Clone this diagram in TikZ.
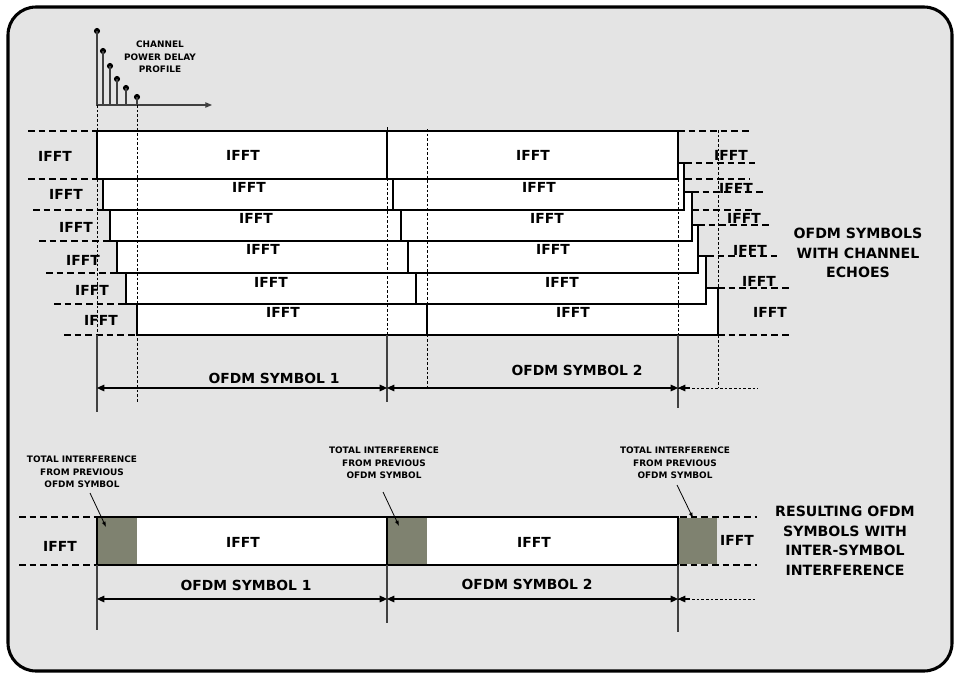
\documentclass[tikz,border=0pt]{standalone}
\usepackage{fontspec}
\setmainfont{DejaVu Sans}
\usepackage{tikz}
\usetikzlibrary{arrows.meta}
\definecolor{panelgray}{RGB}{228,228,228}
\definecolor{isigray}{RGB}{127,130,112}
\tikzstyle{symbox}=[draw=black, fill=white, line width=1.4pt]
\tikzstyle{isibox}=[fill=isigray]
\tikzstyle{rowdash}=[dash pattern=on 5pt off 3pt, line width=1.3pt]
\tikzstyle{tap}=[dash pattern=on 2pt off 1.5pt, line width=0.7pt]
\tikzstyle{ext}=[draw=black!75, line width=0.8pt]
\tikzstyle{dimline}=[{Triangle[length=5.5pt,width=5pt]}-{Triangle[length=5.5pt,width=5pt]}, line width=0.8pt]
\tikzstyle{ptr}=[-{Latex[length=4pt,width=3pt]}, line width=0.6pt]
\tikzstyle{lbl}=[font=\fontsize{10.4}{12}\selectfont\bfseries, inner sep=0pt]
\tikzstyle{note}=[font=\fontsize{6.7}{9.4}\selectfont\bfseries, align=center, inner sep=0pt]
\tikzstyle{big}=[font=\fontsize{10.6}{14.6}\selectfont\bfseries, align=center, inner sep=0pt]
\tikzstyle{tapdot}=[circle, fill=black, inner sep=0pt, minimum size=4.6pt]

\begin{document}
\begin{tikzpicture}[x=0.75pt, y=-0.75pt]
\useasboundingbox (0,0) rectangle (955,674);
\draw[line width=2.3pt, fill=panelgray, rounded corners=21pt] (8,7) rectangle (952,671);

% channel power delay profile
\node[tapdot] (d1) at (97,31) {};
\node[tapdot] (d2) at (103,51) {};
\node[tapdot] (d3) at (110,66) {};
\node[tapdot] (d4) at (117,79) {};
\node[tapdot] (d5) at (126,88) {};
\node[tapdot] (d6) at (137,97) {};
\coordinate (o) at (97,105);
\coordinate (t2) at (103,105);
\coordinate (t3) at (110,105);
\coordinate (t4) at (117,105);
\coordinate (t5) at (126,105);
\coordinate (t6) at (137,105);
\coordinate (tax) at (212,105);
\draw[ext, -{Triangle[length=5pt,width=4pt]}] (d1.center) -- (o) -- (tax);
\draw[ext] (d2.center) -- (t2);
\draw[ext] (d3.center) -- (t3);
\draw[ext] (d4.center) -- (t4);
\draw[ext] (d5.center) -- (t5);
\draw[ext] (d6.center) -- (t6);
\node[note] (pdp) at (160,57) {CHANNEL\\POWER DELAY\\PROFILE};

% level lines
\draw[rowdash] (28,131) -- (97,131);
\draw[rowdash] (28,179) -- (97,179);
\draw[rowdash] (33,210) -- (103,210);
\draw[rowdash] (39,241) -- (110,241);
\draw[rowdash] (46,273) -- (117,273);
\draw[rowdash] (54,304) -- (126,304);
\draw[rowdash] (64,335) -- (137,335);
\draw[rowdash] (678,131) -- (750,131);
\draw[rowdash] (685,163) -- (755,163);
\draw[rowdash] (685,179) -- (750,179);
\draw[rowdash] (692,192) -- (763,192);
\draw[rowdash] (692,210) -- (755,210);
\draw[rowdash] (698,225) -- (770,225);
\draw[rowdash] (707,256) -- (777,256);
\draw[rowdash] (718,288) -- (790,288);
\draw[rowdash] (718,335) -- (790,335);

% symbols with echoes
\draw[symbox] (97,131) rectangle (387,179);
\draw[symbox] (387,131) rectangle (678,179);
\draw[symbox] (103,179) rectangle (393,210);
\draw[symbox] (393,179) -- (678,179) -- (678,163) -- (684,163) -- (684,210) -- (393,210) -- cycle;
\draw[symbox] (110,210) rectangle (401,241);
\draw[symbox] (401,210) -- (684,210) -- (684,192) -- (692,192) -- (692,241) -- (401,241) -- cycle;
\draw[symbox] (117,241) rectangle (408,273);
\draw[symbox] (408,241) -- (692,241) -- (692,225) -- (698,225) -- (698,273) -- (408,273) -- cycle;
\draw[symbox] (126,273) rectangle (416,304);
\draw[symbox] (416,273) -- (698,273) -- (698,256) -- (706,256) -- (706,304) -- (416,304) -- cycle;
\draw[symbox] (137,304) rectangle (427,335);
\draw[symbox] (427,304) -- (706,304) -- (706,288) -- (718,288) -- (718,335) -- (427,335) -- cycle;

\draw[tap] (o) -- (97,335);
\draw[tap] (t6) -- (137,402);
\draw[tap] (387,127) -- (387,335);
\draw[tap] (427,129) -- (427,388);
\draw[tap] (678,179) -- (678,335);
\draw[tap] (718,130) -- (718,388);
\draw[ext] (97,335) -- (97,412);
\draw[ext] (387,335) -- (387,402);
\draw[ext] (678,335) -- (678,408);

\node[lbl] (lf1) at (55,156) {IFFT};
\node[lbl] (lf2) at (66,194) {IFFT};
\node[lbl] (lf3) at (76,227) {IFFT};
\node[lbl] (lf4) at (83,260) {IFFT};
\node[lbl] (lf5) at (92,290) {IFFT};
\node[lbl] (lf6) at (101,320) {IFFT};
\node[lbl] (ia1) at (243,155) {IFFT};
\node[lbl] (ia2) at (249,187) {IFFT};
\node[lbl] (ia3) at (256,218) {IFFT};
\node[lbl] (ia4) at (263,249) {IFFT};
\node[lbl] (ia5) at (271,282) {IFFT};
\node[lbl] (ia6) at (283,312) {IFFT};
\node[lbl] (ib1) at (533,155) {IFFT};
\node[lbl] (ib2) at (539,187) {IFFT};
\node[lbl] (ib3) at (547,218) {IFFT};
\node[lbl] (ib4) at (553,249) {IFFT};
\node[lbl] (ib5) at (562,282) {IFFT};
\node[lbl] (ib6) at (573,312) {IFFT};
\node[lbl] (rf1) at (731,155) {IFFT};
\node[lbl] (rf2) at (736,188) {IFFT};
\node[lbl] (rf3) at (744,218) {IFFT};
\node[lbl] (rf4) at (750,250) {IFFT};
\node[lbl] (rf5) at (759,281) {IFFT};
\node[lbl] (rf6) at (770,312) {IFFT};
\node[big] (echo) at (858,253) {OFDM SYMBOLS\\WITH CHANNEL\\ECHOES};

\coordinate (a1) at (97,388);
\coordinate (a2) at (387,388);
\coordinate (a3) at (678,388);
\coordinate (a3m) at (690,388);
\coordinate (a4) at (758,388);
\draw[dimline] (a1) -- (a2);
\draw[dimline] (a2) -- (a3);
\draw[tap, line width=0.5pt] (a3) -- (a4);
\draw[{Triangle[length=5.5pt,width=5pt]}-, line width=0.8pt] (a3) -- (a3m);
\node[lbl] (sym1) at (274,378) {OFDM SYMBOL 1};
\node[lbl] (sym2) at (577,370) {OFDM SYMBOL 2};

% resulting symbols with ISI
\draw[rowdash] (19,517) -- (97,517);
\draw[rowdash] (19,565) -- (97,565);
\draw[rowdash] (680,517) -- (757,517);
\draw[rowdash] (680,565) -- (757,565);
\draw[symbox] (97,517) rectangle (387,565);
\draw[symbox] (387,517) rectangle (678,565);
\fill[isibox] (98,518) rectangle (137,564);
\fill[isibox] (388,518) rectangle (427,564);
\fill[isibox] (679,518) rectangle (717,564);
\draw[ext] (97,565) -- (97,630);
\draw[ext] (387,565) -- (387,623);
\draw[ext] (678,565) -- (678,632);

\node[lbl] (lb) at (60,546) {IFFT};
\node[lbl] (ba) at (243,542) {IFFT};
\node[lbl] (bb) at (534,542) {IFFT};
\node[lbl] (rb) at (737,540) {IFFT};
\node[big] (res) at (845,541) {RESULTING OFDM\\SYMBOLS WITH\\INTER-SYMBOL\\INTERFERENCE};

\node[note] (ti1) at (82,472) {TOTAL INTERFERENCE\\FROM PREVIOUS\\OFDM SYMBOL};
\node[note] (ti2) at (384,463) {TOTAL INTERFERENCE\\FROM PREVIOUS\\OFDM SYMBOL};
\node[note] (ti3) at (675,463) {TOTAL INTERFERENCE\\FROM PREVIOUS\\OFDM SYMBOL};
\coordinate (p1s) at (90,493);
\coordinate (p1e) at (106,527);
\coordinate (p2s) at (383,492);
\coordinate (p2e) at (399,526);
\coordinate (p3s) at (677,485);
\coordinate (p3e) at (693,518);
\draw[ptr] (p1s) -- (p1e);
\draw[ptr] (p2s) -- (p2e);
\draw[ptr] (p3s) -- (p3e);

\coordinate (b1) at (97,599);
\coordinate (b2) at (387,599);
\coordinate (b3) at (678,599);
\coordinate (b3m) at (690,599);
\coordinate (b4) at (757,599);
\draw[dimline] (b1) -- (b2);
\draw[dimline] (b2) -- (b3);
\draw[tap, line width=0.5pt] (b3) -- (b4);
\draw[{Triangle[length=5.5pt,width=5pt]}-, line width=0.8pt] (b3) -- (b3m);
\node[lbl] (sym1b) at (246,585) {OFDM SYMBOL 1};
\node[lbl] (sym2b) at (527,584) {OFDM SYMBOL 2};
\end{tikzpicture}
\end{document}
